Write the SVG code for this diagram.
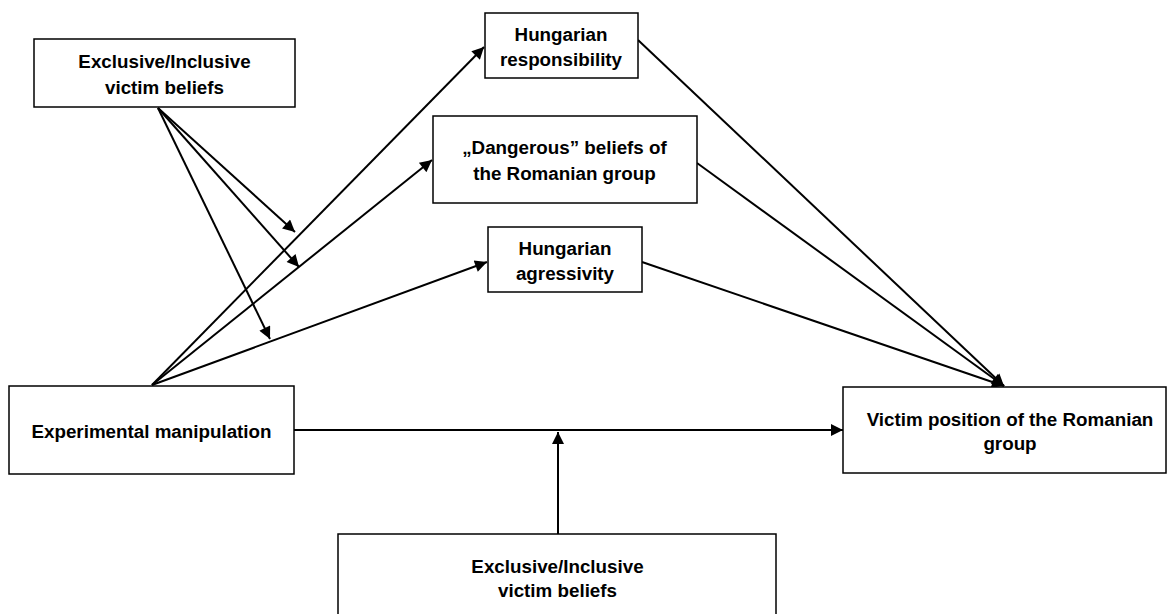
<svg xmlns="http://www.w3.org/2000/svg" width="1168" height="614" viewBox="0 0 1168 614">
<style>
.box{fill:#fff;stroke:#000;stroke-width:1.5}
.t{font-family:"Liberation Sans",Arial,sans-serif;font-weight:bold;font-size:18.8px;fill:#000;text-anchor:middle}
.c{stroke:#000;stroke-width:2;fill:none;marker-end:url(#ah)}
</style>
<defs>
<marker id="ah" viewBox="0 0 10 10" refX="10" refY="5" markerWidth="7" markerHeight="6" orient="auto" markerUnits="strokeWidth">
<path d="M0,0 L10,5 L0,10 z" fill="#000"/>
</marker>
</defs>
<rect width="1168" height="614" fill="#fff"/>
<g id="connectors">
<line class="c" x1="158" y1="108" x2="295" y2="232"/>
<line class="c" x1="158" y1="108" x2="299" y2="267"/>
<line class="c" x1="158" y1="108" x2="270" y2="339"/>
<line class="c" x1="152" y1="385" x2="484" y2="47"/>
<line class="c" x1="152" y1="385" x2="432" y2="160"/>
<line class="c" x1="152" y1="385" x2="487" y2="262"/>
<line class="c" x1="638" y1="40" x2="1004" y2="386"/>
<line class="c" x1="697" y1="163" x2="1004" y2="386"/>
<line class="c" x1="642" y1="262" x2="1004" y2="386"/>
<line class="c" x1="294" y1="430" x2="843" y2="430"/>
<line class="c" x1="558" y1="534" x2="558" y2="432"/>
</g>
<g id="n_excl_top">
<rect class="box" x="34" y="39" width="261" height="68"/>
<text class="t" x="164.5" y="68">Exclusive/Inclusive</text>
<text class="t" x="164.5" y="94">victim beliefs</text>
</g>
<g id="n_resp">
<rect class="box" x="485" y="13" width="153" height="65"/>
<text class="t" x="561" y="41">Hungarian</text>
<text class="t" x="561" y="66">responsibility</text>
</g>
<g id="n_danger">
<rect class="box" x="433" y="116" width="264" height="87"/>
<text class="t" x="564.5" y="154">„Dangerous” beliefs of</text>
<text class="t" x="564.5" y="180">the Romanian group</text>
</g>
<g id="n_aggr">
<rect class="box" x="488" y="227" width="154" height="65"/>
<text class="t" x="565" y="255">Hungarian</text>
<text class="t" x="565" y="280">agressivity</text>
</g>
<g id="n_exp">
<rect class="box" x="9" y="386" width="285" height="88"/>
<text class="t" x="151.5" y="438">Experimental manipulation</text>
</g>
<g id="n_victim">
<rect class="box" x="843" y="387" width="323" height="86"/>
<text class="t" x="1010" y="426">Victim position of the Romanian</text>
<text class="t" x="1010" y="450">group</text>
</g>
<g id="n_excl_bottom">
<rect class="box" x="338" y="534" width="438" height="90"/>
<text class="t" x="557.5" y="573">Exclusive/Inclusive</text>
<text class="t" x="557.5" y="597">victim beliefs</text>
</g>
</svg>
